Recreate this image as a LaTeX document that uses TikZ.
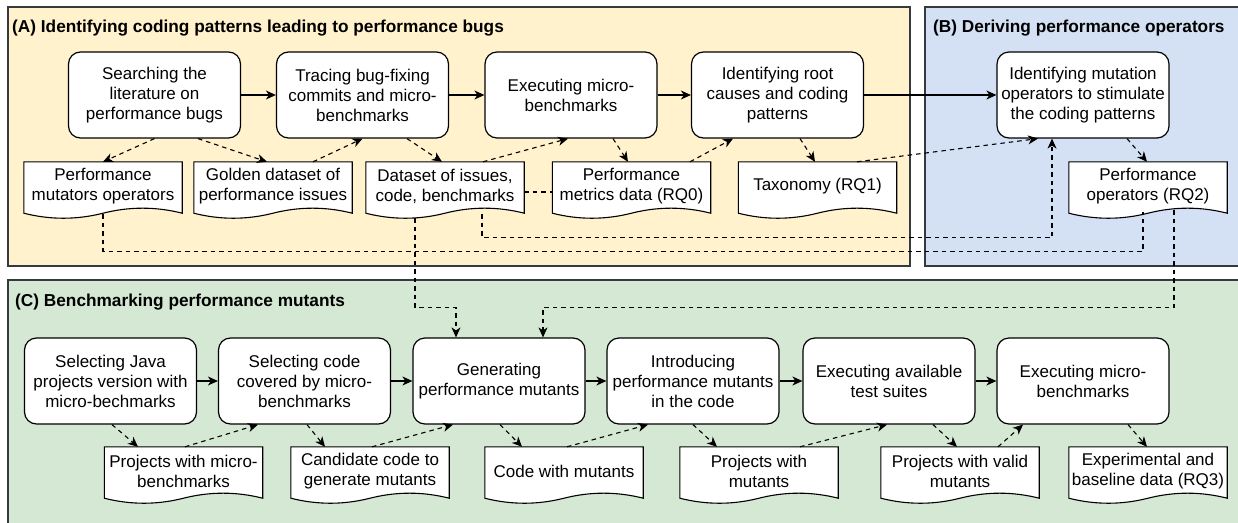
\documentclass[tikz,border=0pt]{standalone}
\usepackage{fontspec}
\setmainfont{Liberation Sans}
\usetikzlibrary{arrows.meta,calc,positioning}
\pgfdeclarelayer{panel}
\pgfdeclarelayer{shape}
\pgfsetlayers{panel,shape,main}
\definecolor{panelA}{HTML}{FFF2CC}
\definecolor{panelB}{HTML}{D4E1F5}
\definecolor{panelC}{HTML}{D5E8D4}
\definecolor{panelline}{HTML}{36393D}
\newcommand\docpath[1]{%
  \begin{pgfonlayer}{shape}
  \draw[docline] (#1.north west) -- (#1.north east) -- ($(#1.south east)+(0,3)$)
    .. controls ($(#1.south west)!5/6!(#1.south east)+(0,-3.7)$) and ($(#1.south west)!2/3!(#1.south east)+(0,-3.7)$) .. ($(#1.south)+(0,3)$)
    .. controls ($(#1.south west)!1/3!(#1.south east)+(0,9.7)$) and ($(#1.south west)!1/6!(#1.south east)+(0,9.7)$) .. ($(#1.south west)+(0,3)$) -- cycle;
  \end{pgfonlayer}}
\tikzset{
  every node/.style={font=\fontsize{17}{20}\selectfont, text=black},
  proc/.style={draw=black, line width=1.2pt, fill=white, rounded corners=12pt,
    minimum width=172pt, minimum height=86pt, inner sep=0pt, align=center},
  doc/.style={minimum width=158pt, minimum height=48pt, inner sep=0pt, align=center},
  docline/.style={draw=black, line width=1.1pt, fill=white},
  panelbox/.style={draw=panelline, line width=1.5pt},
  ptitle/.style={font=\bfseries\fontsize{17.25}{20}\selectfont, anchor=west, inner sep=0pt},
  sarrow/.style={line width=1.2pt, -{Stealth[length=10pt,width=9pt,inset=3pt]}},
  darrow/.style={line width=1.1pt, dash pattern=on 4.5pt off 4pt, -{Stealth[length=10pt,width=9pt,inset=3pt]}},
  dline/.style={line width=1.1pt, dash pattern=on 4.5pt off 4pt},
}
\begin{document}
\begin{tikzpicture}[x=1pt,y=-1pt]
\useasboundingbox (0,0) rectangle (1238,522);
\clip (0,0) rectangle (1238,522);
\begin{pgfonlayer}{panel}
  \fill[white] (-5,-5) rectangle (1245,530);
  \draw[panelbox, fill=panelA] (8,7) rectangle (910,266);
  \draw[panelbox, fill=panelB] (925,7) rectangle (1250,266);
  \draw[panelbox, fill=panelC] (8,280) rectangle (1250,535);
\end{pgfonlayer}
\node[ptitle] (tA) at (12,28) {(A) Identifying coding patterns leading to performance bugs};
\node[ptitle] (tB) at (933,28) {(B) Deriving performance operators};
\node[ptitle] (tC) at (15,302) {(C) Benchmarking performance mutants};

% row A/B process boxes
\node[proc] (B1) at (154.5,95) {Searching the\\literature on\\performance bugs};
\node[proc] (B2) at (362.5,95) {Tracing bug-fixing\\commits and micro-\\benchmarks};
\node[proc] (B3) at (571,95) {Executing micro-\\benchmarks};
\node[proc] (B4) at (777.5,95) {Identifying root\\causes and coding\\patterns};
\node[proc] (B5) at (1083,95) {Identifying mutation\\operators to stimulate\\the coding patterns};

% row A/B documents
\node[doc] (D1) at (103,186) {Performance\\mutators operators};
\node[doc] (D2) at (273,186) {Golden dataset of\\performance issues};
\node[doc] (D3) at (445,186) {Dataset of issues,\\code, benchmarks};
\node[doc] (D4) at (631.5,186) {Performance\\metrics data (RQ0)};
\node[doc] (D5) at (817.5,186) {Taxonomy (RQ1)};
\node[doc] (D6) at (1148,186) {Performance\\operators (RQ2)};
\foreach \d in {D1,D2,D3,D4,D5,D6} {\docpath{\d}}

% row C process boxes
\node[proc] (C1) at (110.5,381) {Selecting Java\\projects version with\\micro-bechmarks};
\node[proc] (C2) at (304.5,381) {Selecting code\\covered by micro-\\benchmarks};
\node[proc] (C3) at (499,381) {Generating\\performance mutants};
\node[proc] (C4) at (693,381) {Introducing\\performance mutants\\in the code};
\node[proc] (C5) at (889,381) {Executing available\\test suites};
\node[proc] (C6) at (1083,381) {Executing micro-\\benchmarks};

% row C documents
\node[doc] (E1) at (183.5,471) {Projects with micro-\\benchmarks};
\node[doc] (E2) at (370,471) {Candidate code to\\generate mutants};
\node[doc] (E3) at (564,471) {Code with mutants};
\node[doc] (E4) at (759,471) {Projects with\\mutants};
\node[doc] (E5) at (960,471) {Projects with valid\\mutants};
\node[doc] (E6) at (1148,471) {Experimental and\\baseline data (RQ3)};
\foreach \d in {E1,E2,E3,E4,E5,E6} {\docpath{\d}}

% solid arrows
\draw[sarrow] (B1) -- (B2);
\draw[sarrow] (B2) -- (B3);
\draw[sarrow] (B3) -- (B4);
\draw[sarrow] (B4) -- (B5);
\draw[sarrow] (C1) -- (C2);
\draw[sarrow] (C2) -- (C3);
\draw[sarrow] (C3) -- (C4);
\draw[sarrow] (C4) -- (C5);
\draw[sarrow] (C5) -- (C6);

% dashed arrows row A/B
\draw[darrow] (B1.south) -- (D1.north);
\draw[darrow] ($(B1.south)+(43.5,0)$) -- ($(D2.north)+(-6,0)$);
\draw[darrow] ($(D2.north)+(40,0)$) -- (B2.south);
\draw[darrow] ($(B2.south)+(44.5,0)$) -- ($(D3.north)+(-3,0)$);
\draw[darrow] ($(D3.north)+(38,0)$) -- ($(B3.south)+(-3,0)$);
\draw[darrow] ($(B3.south)+(42,0)$) -- ($(D4.north)+(-3.5,0)$);
\draw[darrow] ($(D4.north)+(58.5,0)$) -- ($(B4.south)+(-44.5,0)$);
\draw[darrow] ($(B4.south)+(22.5,0)$) -- ($(D5.north)+(-2.5,0)$);
\draw[darrow] ($(D5.north)+(39.5,0)$) -- ($(B5.south)+(-45,0)$);
\draw[darrow] ($(B5.south)+(44,0)$) -- ($(D6.north)+(-1,0)$);
\draw[dline] ($(D3.east)+(0,6)$) -- ($(D4.west)+(0,6)$);

% long dashed routes
\draw[dline] ($(D1.south)+(0,4)$) -- ++(0,37) -| ($(D6.south)+(-5,2)$);
\draw[darrow] ($(D3.south)+(37,4)$) |- ($(B5.south)+(-31,99)$) -- ($(B5.south)+(-31,0)$);
\draw[darrow] ($(D3.south)+(-30,8)$) |- ($(C3.north)+(-43,-30)$) -- ($(C3.north)+(-43,0)$);
\draw[darrow] ($(D6.south)+(26,0)$) |- ($(C3.north)+(44,-30)$) -- ($(C3.north)+(44,0)$);

% dashed arrows row C
\draw[darrow] ($(C1.south)+(1.5,0)$) -- ($(E1.north)+(-45.5,0)$);
\draw[darrow] ($(E1.north)+(1.5,0)$) -- ($(C2.south)+(-46.5,0)$);
\draw[darrow] ($(C2.south)+(2.5,0)$) -- ($(E2.north)+(-45,0)$);
\draw[darrow] ($(E2.north)+(2,0)$) -- ($(C3.south)+(-46,0)$);
\draw[darrow] ($(C3.south)+(1,0)$) -- ($(E3.north)+(-42,0)$);
\draw[darrow] ($(E3.north)+(3,0)$) -- ($(C4.south)+(-45,0)$);
\draw[darrow] (C4.south) -- ($(E4.north)+(-42,0)$);
\draw[darrow] ($(E4.north)+(41,0)$) -- ($(C5.south)+(-2,0)$);
\draw[darrow] ($(C5.south)+(44,0)$) -- ($(E5.north)+(-3,0)$);
\draw[darrow] ($(E5.north)+(38,0)$) -- ($(C6.south)+(-60,0)$);
\draw[darrow] ($(C6.south)+(45,0)$) -- ($(E6.north)+(-1,0)$);
\end{tikzpicture}
\end{document}
